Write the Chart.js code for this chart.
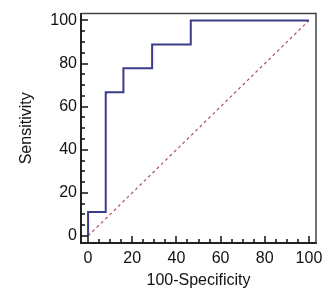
<!DOCTYPE html>
<html>
<head>
<meta charset="utf-8">
<script src="https://cdn.jsdelivr.net/npm/chart.js@4"></script>
<style>
  html, body { margin: 0; padding: 0; background: #fff; }
  #wrap { width: 333px; height: 302px; }
</style>
</head>
<body>
<div id="wrap"><canvas id="rocChart"></canvas></div>
<script>
// ROC curve corners (100-Specificity, Sensitivity)
const roc_x = [0, 0, 8, 16, 29, 46.5, 100];
const roc_y = [0, 11.1, 66.7, 77.8, 88.9, 100, 100];
// reference line
const diag_x = [0, 100];
const diag_y = [0, 100];
// axis ticks
const major_ticks = [0, 20, 40, 60, 80, 100];
const minor_ticks = [5, 10, 15, 25, 30, 35, 45, 50, 55, 65, 70, 75, 85, 90, 95];

const font_family = "'Liberation Sans', Arial, sans-serif";

// frame on top/right and inward tick marks
const frameTicks = {
    id: 'frameTicks',
    afterDraw(chart) {
        const {ctx, chartArea: a, scales} = chart;
        ctx.save();
        ctx.strokeStyle = '#444';
        ctx.lineWidth = 1.5;
        ctx.beginPath();
        ctx.moveTo(a.left, a.top);
        ctx.lineTo(a.right, a.top);
        ctx.lineTo(a.right, a.bottom);
        ctx.stroke();

        ctx.strokeStyle = '#111';
        ctx.lineWidth = 1.5;
        ctx.beginPath();
        const mark = (v, len) => {
            const px = Math.round(scales.x.getPixelForValue(v));
            ctx.moveTo(px, a.bottom);
            ctx.lineTo(px, a.bottom - len);
            const py = Math.round(scales.y.getPixelForValue(v));
            ctx.moveTo(a.left, py);
            ctx.lineTo(a.left + len, py);
        };
        major_ticks.forEach(v => mark(v, 7));
        minor_ticks.forEach(v => mark(v, 4));
        ctx.stroke();
        ctx.restore();
    }
};

const ctx_1 = document.getElementById('rocChart').getContext('2d');
const rocChart = new Chart(ctx_1, {
    type: 'line',
    data: {
        datasets: [{
            label: 'ROC',
            data: roc_x.map((x, i) => ({x: x, y: roc_y[i]})),
            borderColor: '#3b3b8c',
            borderWidth: 2,
            stepped: 'before',
            pointRadius: 0,
            fill: false
        }, {
            label: 'Reference',
            data: diag_x.map((x, i) => ({x: x, y: diag_y[i]})),
            borderColor: '#a8506e',
            borderWidth: 1.2,
            borderDash: [3, 3],
            pointRadius: 0,
            fill: false
        }]
    },
    options: {
        responsive: true,
        maintainAspectRatio: false,
        animation: false,
        layout: { padding: { top: 9, right: 17, left: 0, bottom: 0 } },
        plugins: {
            legend: { display: false },
            tooltip: { enabled: false }
        },
        scales: {
            x: {
                type: 'linear',
                min: -3.2,
                max: 103.2,
                afterBuildTicks: s => { s.ticks = major_ticks.map(v => ({value: v})); },
                afterFit: s => { s.height = 59; },
                grid: { drawOnChartArea: false, drawTicks: false },
                border: { display: true, color: '#222', width: 2 },
                ticks: { color: '#111', padding: 6, font: { family: font_family, size: 16 } },
                title: {
                    display: true,
                    text: '100-Specificity',
                    color: '#111',
                    padding: { top: 0, bottom: 12 },
                    font: { family: font_family, size: 16 }
                }
            },
            y: {
                type: 'linear',
                min: -3.3,
                max: 103.2,
                afterBuildTicks: s => { s.ticks = major_ticks.map(v => ({value: v})); },
                afterFit: s => { s.width = 81; },
                grid: { drawOnChartArea: false, drawTicks: false },
                border: { display: true, color: '#222', width: 2 },
                ticks: { color: '#111', padding: 4, font: { family: font_family, size: 16 } },
                title: {
                    display: true,
                    text: 'Sensitivity',
                    color: '#111',
                    padding: { top: 17, bottom: 0 },
                    font: { family: font_family, size: 16 }
                }
            }
        }
    },
    plugins: [frameTicks]
});
</script>
</body>
</html>
